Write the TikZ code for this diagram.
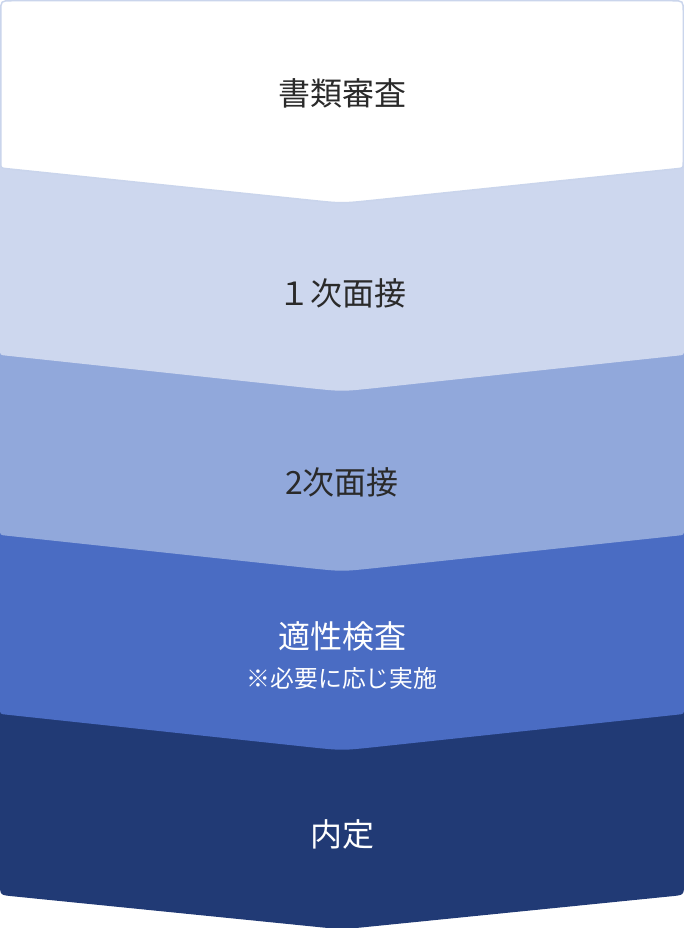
\documentclass[tikz,border=0pt]{standalone}
\usepackage{fontspec}
\setmainfont{Noto Sans CJK JP}
\definecolor{edgeblue}{HTML}{CAD5EC}
\definecolor{layA}{HTML}{CDD7EE}
\definecolor{layB}{HTML}{91A8DB}
\definecolor{layC}{HTML}{4A6CC3}
\definecolor{layD}{HTML}{213A75}
\definecolor{inkdark}{HTML}{2A2A2A}
\tikzset{
  steplabel/.style={font=\fontsize{32}{36}\selectfont, inner sep=0pt},
  sublabel/.style={font=\fontsize{23.8}{28}\selectfont, inner sep=0pt},
}
% chevron layer: #1 top y, #2 side y, #3 tip corner y
\newcommand{\chevlayer}[4]{%
  \fill[#4] (0,#1) -- (0,#2-6) .. controls (0,#2) .. (6,#2+0.6)
    -- (312,#3-3.1) .. controls (342,#3) .. (372,#3-3.1)
    -- (678,#2+0.6) .. controls (684,#2) .. (684,#2-6) -- (684,#1) -- cycle;}
\begin{document}
\begin{tikzpicture}[x=1pt,y=-1pt]
\useasboundingbox (0,0) rectangle (684,928);
% bottom layer (dark) with rounded bottom corners
\fill[layD] (0,700) -- (0,883) .. controls (0,895) .. (12,896.2)
  -- (312,926.4) .. controls (342,929.5) .. (372,926.4)
  -- (672,896.2) .. controls (684,895) .. (684,883) -- (684,700) -- cycle;
\chevlayer{520}{714}{750.5}{layC}
\chevlayer{340}{535}{571.5}{layB}
\chevlayer{150}{355}{391.5}{layA}
% top white box
\filldraw[fill=white, draw=edgeblue, line width=1.5pt]
  (0.75,168-6) -- (0.75,12) .. controls (0.75,0.75) .. (12,0.75)
  -- (672,0.75) .. controls (683.25,0.75) .. (683.25,12)
  -- (683.25,168-6) .. controls (683.25,168) .. (678,168.6)
  -- (372,200.4) .. controls (342,203.5) .. (312,200.4)
  -- (6,168.6) .. controls (0.75,168) .. (0.75,168-6) -- cycle;
\node[steplabel, text=inkdark] (s1) at (342,93) {書類審査};
\node[steplabel, text=inkdark] (s2) at (342,293) {１次面接};
\node[steplabel, text=inkdark] (s3) at (342,482) {2次面接};
\node[steplabel, text=white] (s4) at (342,636) {適性検査};
\node[sublabel, text=white] (s4b) at (342,678) {※必要に応じ実施};
\node[steplabel, text=white] (s5) at (342,834) {内定};
\end{tikzpicture}
\end{document}
